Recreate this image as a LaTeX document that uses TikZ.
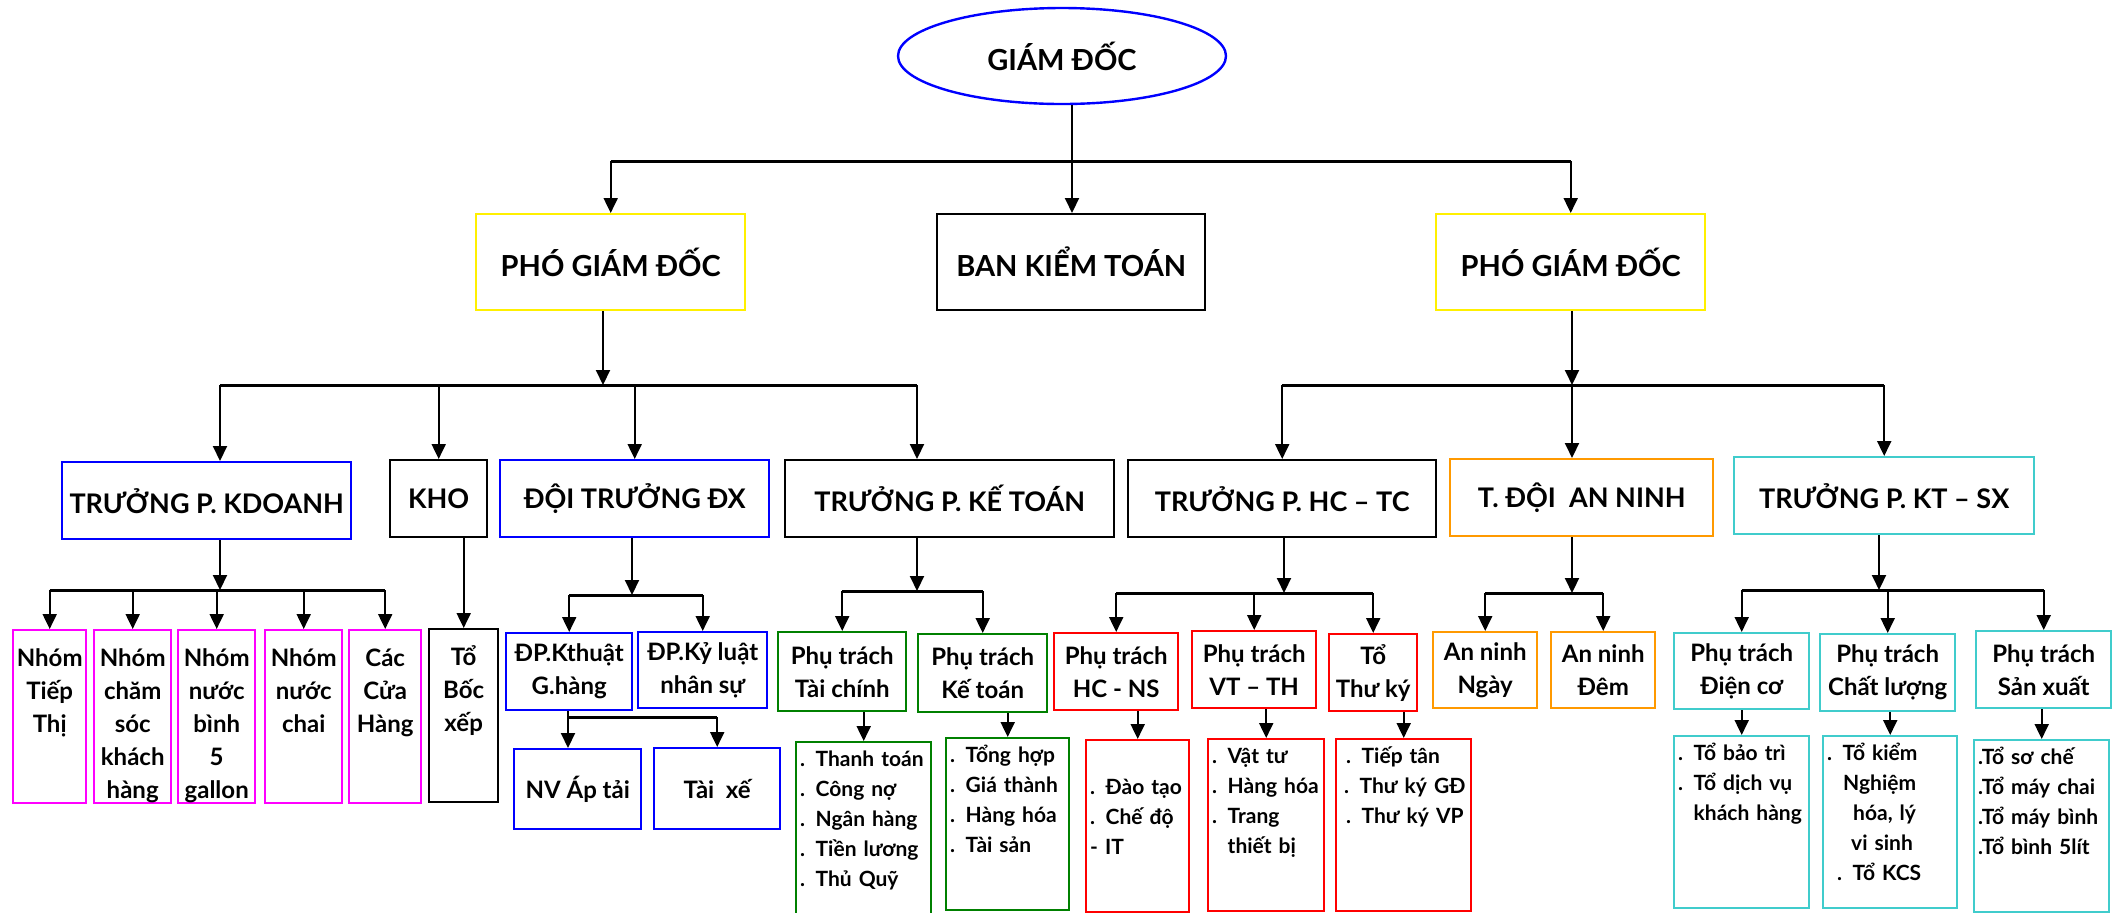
\documentclass[tikz,border=0pt]{standalone}
\usepackage{fontspec}
\setmainfont{Lato}
\usepackage{xcolor}
\usetikzlibrary{arrows.meta, shapes.geometric}

\definecolor{mag}{RGB}{255,0,255}
\definecolor{grn}{RGB}{0,128,0}
\definecolor{org}{RGB}{255,153,0}
\definecolor{cyn}{RGB}{64,204,204}
\definecolor{yel}{RGB}{255,240,0}

\begin{document}
\begin{tikzpicture}[->,>={Triangle[length=7.5pt,width=7pt]},line width=1pt,x=.5pt,y=-.5pt]
    \tikzset{every node/.style={inner sep=0pt, font=\bfseries},
             wh/.style 2 args={minimum width=#1*.5pt, minimum height=#2*.5pt},
             hbox/.style={draw=#1, line width=1.2pt, anchor=north west, font=\fontsize{13.5}{16}\selectfont\bfseries},
             ubox/.style={draw=#1, line width=1.2pt, anchor=north west, align=center, font=\fontsize{12}{16.5}\selectfont\bfseries},
             cbox/.style 2 args={draw=#1, line width=1.2pt, anchor=north west, align=center, text width=#2*.5pt,
                                 text height=18pt, text depth=68.5pt, font=\fontsize{12}{16.5}\selectfont\bfseries},
             lbox/.style 2 args={draw=#1, line width=1.2pt, anchor=north west, align=left, inner xsep=2pt,
                                 text width=#2*.5pt-4pt, text height=12pt, text depth=74pt, font=\fontsize{10.5}{15}\selectfont\bfseries},
             busline/.style={-, line width=1.5pt}}

    \path[use as bounding box, fill=white] (0,0) rectangle (2125,912);

    \node[ellipse, draw=blue, line width=1.2pt, minimum width=164pt, minimum height=48pt,
          font=\fontsize{14.5}{17}\selectfont\bfseries] (gd) at (1062,56) {GIÁM ĐỐC};

    \node[hbox=yel, wh={269}{96}, font=\fontsize{14.5}{17}\selectfont\bfseries] (pgd1) at (475,213) {PHÓ GIÁM ĐỐC};
    \node[hbox=black, wh={268}{96}, font=\fontsize{14.5}{17}\selectfont\bfseries] (bkt) at (936,213) {BAN KIỂM TOÁN};
    \node[hbox=yel, wh={269}{96}, font=\fontsize{14.5}{17}\selectfont\bfseries] (pgd2) at (1435,213) {PHÓ GIÁM ĐỐC};

    \node[hbox=blue, wh={289}{77}] (kd) at (61,461) {TRƯỞNG P. KDOANH};
    \node[hbox=black, wh={97}{77}] (kho) at (389,459) {KHO};
    \node[hbox=blue, wh={269}{77}] (dx) at (499,459) {ĐỘI TRƯỞNG ĐX};
    \node[hbox=black, wh={329}{77}] (kt) at (784,459) {TRƯỞNG P. KẾ TOÁN};
    \node[hbox=black, wh={308}{77}] (hc) at (1127,459) {TRƯỞNG P. HC – TC};
    \node[hbox=org, wh={263}{77}] (an) at (1449,458) {T. ĐỘI\ \ AN NINH};
    \node[hbox=cyn, wh={300}{77}] (sx) at (1733,456) {TRƯỞNG P. KT – SX};

    \node[cbox={mag}{73}] (n1) at (12,629) {Nhóm\\Tiếp\\Thị};
    \node[cbox={mag}{77}] (n2) at (93,629) {Nhóm\\chăm\\sóc\\khách\\hàng};
    \node[cbox={mag}{77}] (n3) at (177,629) {Nhóm\\nước\\bình\\5\\gallon};
    \node[cbox={mag}{77}] (n4) at (264,629) {Nhóm\\nước\\chai};
    \node[cbox={mag}{72}] (n5) at (348,629) {Các\\Cửa\\Hàng};
    \node[cbox={black}{69}] (bx) at (428,628) {Tổ\\Bốc\\xếp};

    \node[ubox=blue, wh={126}{77}] (dp1) at (505,632) {ĐP.Kthuật\\G.hàng};
    \node[ubox=blue, wh={129}{76}] (dp2) at (637,631) {ĐP.Kỷ luật\\nhân sự};
    \node[ubox=grn, wh={128}{79}] (pt1) at (777,631) {Phụ trách\\Tài chính};
    \node[ubox=grn, wh={129}{78}] (pt2) at (917,633) {Phụ trách\\Kế toán};
    \node[ubox=red, wh={124}{77}] (p1) at (1053,632) {Phụ trách\\HC - NS};
    \node[ubox=red, wh={124}{77}] (p2) at (1191,630) {Phụ trách\\VT – TH};
    \node[ubox=red, wh={88}{77}] (p3) at (1328,633) {Tổ\\Thư ký};
    \node[ubox=org, wh={104}{76}] (a1) at (1432,631) {An ninh\\Ngày};
    \node[ubox=org, wh={104}{76}] (a2) at (1550,631) {An ninh\\Đêm};
    \node[ubox=cyn, wh={135}{76}] (q1) at (1673,632) {Phụ trách\\Điện cơ};
    \node[ubox=cyn, wh={135}{77}] (q2) at (1819,633) {Phụ trách\\Chất lượng};
    \node[ubox=cyn, wh={135}{77}] (q3) at (1975,630) {Phụ trách\\Sản xuất};

    \node[ubox=blue, wh={127}{80}] (nv) at (513,748) {NV Áp tải};
    \node[ubox=blue, wh={126}{81}] (tx) at (653,747) {Tài\ \ xế};

    \node[lbox={grn}{135}, text depth=84pt] (l1) at (795,741) {. Thanh toán\\. Công nợ\\. Ngân hàng\\. Tiền lương\\. Thủ Quỹ};
    \node[lbox={grn}{123}] (l2) at (945,737) {. Tổng hợp\\. Giá thành\\. Hàng hóa\\. Tài sản};
    \node[lbox={red}{103}] (l3) at (1085,739) {\mbox{}\\. Đào tạo\\. Chế độ\\- IT};
    \node[lbox={red}{116}] (l4) at (1207,738) {. Vật tư\\. Hàng hóa\\. Trang\\\phantom{. }thiết bị};
    \node[lbox={red}{135}] (l5) at (1335,738) {\mbox{\hspace{3pt}. Tiếp tân}\\\mbox{\hspace{2pt}. Thư ký GĐ}\\\mbox{\hspace{3pt}. Thư ký VP}};
    \node[lbox={cyn}{135}] (l6) at (1673,735) {. Tổ bảo trì\\. Tổ dịch vụ\\\phantom{. }khách hàng};
    \node[lbox={cyn}{134}] (l7) at (1822,735) {. Tổ kiểm\\\hspace{8pt}Nghiệm\\\hspace{13pt}hóa, lý\\\hspace{12pt}vi sinh\\\hspace{5pt}. Tổ KCS};
    \node[lbox={cyn}{135}] (l8) at (1973,739) {.Tổ sơ chế\\.Tổ máy chai\\.Tổ máy bình\\.Tổ bình 5lít};

    \coordinate (b0) at (1072,161);
    \coordinate (b1) at (603,385);
    \coordinate (b2) at (1572,385);
    \coordinate (b3) at (220,590);
    \coordinate (b4) at (632,595);
    \coordinate (b5) at (917,591);
    \coordinate (b6) at (1284,593);
    \coordinate (b7) at (1572,593);
    \coordinate (b8) at (1879,590);
    \coordinate (b9) at (568,717);

    \path (gd.south -| b0) edge[-] (b0);
    \path (pgd1.north |- b0) edge[busline] (pgd2.north |- b0);
    \path (pgd1.north |- b0) edge (pgd1);
    \path (b0) edge (bkt.north -| b0);
    \path (pgd2.north |- b0) edge (pgd2);

    \path (pgd1.south -| b1) edge (b1);
    \path (b1 -| b3) edge[busline] (b1 -| b5);
    \path (b1 -| b3) edge (kd.north -| b3);
    \path (b1 -| kho.north) edge (kho);
    \path (b1 -| dx.north) edge (dx);
    \path (b1 -| b5) edge (kt.north -| b5);

    \path (pgd2.south -| b2) edge (b2);
    \path (b2 -| hc.north) edge[busline] (b2 -| sx.north);
    \path (b2 -| hc.north) edge (hc);
    \path (b2) edge (an.north -| b2);
    \path (b2 -| sx.north) edge (sx);

    \path (kd.south -| b3) edge (b3);
    \path (b3 -| n1.north) edge[busline] (b3 -| n5.north);
    \path (b3 -| n1.north) edge (n1);
    \path (b3 -| n2.north) edge (n2);
    \path (b3 -| n3.north) edge (n3);
    \path (b3 -| n4.north) edge (n4);
    \path (b3 -| n5.north) edge (n5);
    \path (kho.south -| bx.north) edge (bx);

    \path (dx.south -| b4) edge (b4);
    \path (b4 -| dp1.north) edge[busline] (b4 -| dp2.north);
    \path (b4 -| dp1.north) edge (dp1);
    \path (b4 -| dp2.north) edge (dp2);

    \path (kt.south -| b5) edge (b5);
    \path (b5 -| pt1.north) edge[busline] (b5 -| pt2.north);
    \path (b5 -| pt1.north) edge (pt1);
    \path (b5 -| pt2.north) edge (pt2);

    \path (hc.south -| b6) edge (b6);
    \path (b6 -| p1.north) edge[busline] (b6 -| p3.north);
    \path (b6 -| p1.north) edge (p1);
    \path (b6 -| p2.north) edge (p2);
    \path (b6 -| p3.north) edge (p3);

    \path (an.south -| b7) edge (b7);
    \path (b7 -| a1.north) edge[busline] (b7 -| a2.north);
    \path (b7 -| a1.north) edge (a1);
    \path (b7 -| a2.north) edge (a2);

    \path (sx.south -| b8) edge (b8);
    \path (b8 -| q1.north) edge[busline] (b8 -| q3.north);
    \path (b8 -| q1.north) edge (q1);
    \path (b8 -| q2.north) edge (q2);
    \path (b8 -| q3.north) edge (q3);

    \path (dp1.south -| b9) edge (nv.north -| b9);
    \path (b9) edge[busline] (b9 -| tx.north);
    \path (b9 -| tx.north) edge (tx);

    \path (pt1.south -| l1.north) edge (l1);
    \path (pt2.south -| l2.north) edge (l2);
    \path (p1.south -| l3.north) edge (l3);
    \path (p2.south -| l4.north) edge (l4);
    \path (p3.south -| l5.north) edge (l5);
    \path (q1.south -| l6.north) edge (l6);
    \path (q2.south -| l7.north) edge (l7);
    \path (q3.south -| l8.north) edge (l8);
\end{tikzpicture}
\end{document}
